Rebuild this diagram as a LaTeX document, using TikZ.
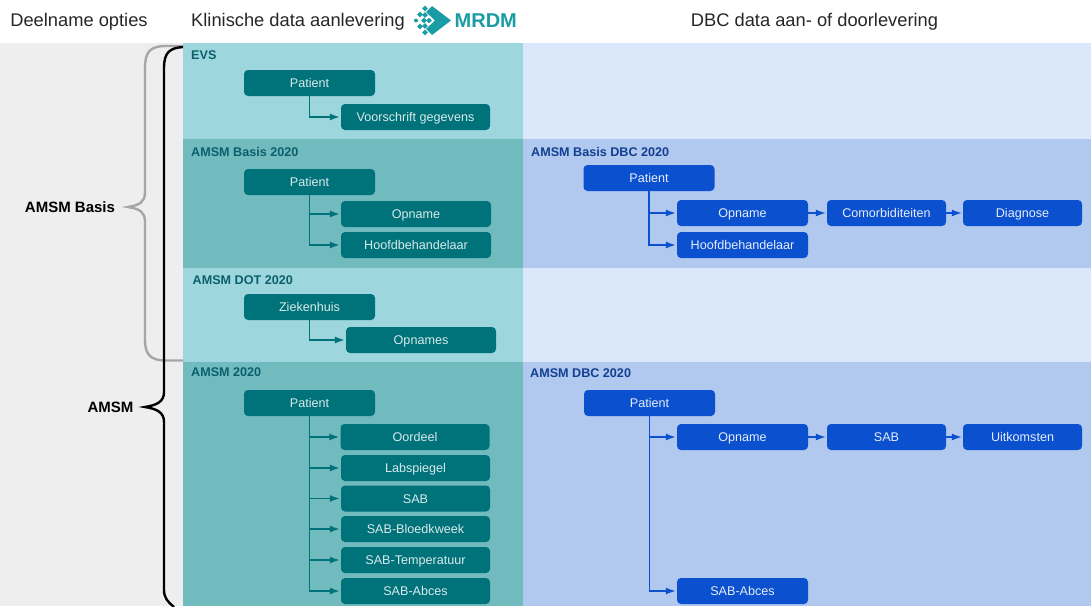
\documentclass[tikz,border=0pt]{standalone}
\usepackage{fontspec}
\setmainfont{Liberation Sans}
\usetikzlibrary{arrows.meta}
\definecolor{tealband}{HTML}{9DD7DD}
\definecolor{tealdark}{HTML}{71BBBF}
\definecolor{tealbox}{HTML}{00727A}
\definecolor{tealtext}{HTML}{0B5F6B}
\definecolor{blueband}{HTML}{DBE7FB}
\definecolor{bluedark}{HTML}{B1C8EF}
\definecolor{bluebox}{HTML}{0A50CF}
\definecolor{bluetext}{HTML}{123F91}
\definecolor{logoteal}{HTML}{1A9CA5}
\tikzset{
  boxt/.style={fill=tealbox, text=white!85!tealbox, rounded corners=4pt, inner sep=0pt, text height=11pt, text depth=2pt, font=\fontsize{12.6}{14}\selectfont},
  boxb/.style={fill=bluebox, text=white!90!bluebox, rounded corners=4pt, inner sep=0pt, text height=11pt, text depth=2pt, font=\fontsize{12.6}{14}\selectfont},
  wt/.style={minimum width=#1pt, minimum height=26pt},
  head/.style={font=\fontsize{18.3}{20}\selectfont, text=black!85},
  titlet/.style={anchor=west, inner sep=0pt, text=tealtext, font=\fontsize{12.6}{14}\selectfont\bfseries},
  titleb/.style={anchor=west, inner sep=0pt, text=bluetext, font=\fontsize{12.6}{14}\selectfont\bfseries},
  optie/.style={font=\fontsize{15}{17}\selectfont\bfseries},
  lijnt/.style={draw=tealbox, line width=1.5pt, shorten >=1pt, -{Latex[length=10pt,width=7pt]}},
  lijnb/.style={draw=bluebox, line width=1.5pt, shorten >=1pt, -{Latex[length=10pt,width=7pt]}},
}
\begin{document}
\begin{tikzpicture}[x=1pt,y=-1pt]
\useasboundingbox (0,0) rectangle (1091,606);
% banden
\fill[black!6.5] (0,43) rectangle (183,606);
\fill[tealband] (183,43) rectangle (523,139);
\fill[tealdark] (183,139) rectangle (523,268);
\fill[tealband] (183,268) rectangle (523,362);
\fill[tealdark] (183,362) rectangle (523,606);
\fill[blueband] (523,43) rectangle (1091,139);
\fill[bluedark] (523,139) rectangle (1091,268);
\fill[blueband] (523,268) rectangle (1091,362);
\fill[bluedark] (523,362) rectangle (1091,606);
% koppen
\node[head] (hdeel) at (79,21.5) {Deelname opties};
\node[head] (hklin) at (298,21.5) {Klinische data aanlevering};
\node[head] (hdbc) at (814.5,21.5) {DBC data aan- of doorlevering};
% logo
\fill[logoteal] (432,6) -- (451,20.5) -- (432,35) -- (426,29) -- (435,20.5) -- (426,12) -- cycle;
\foreach \lx/\ly in {425/8.5,425/15,425/26,425/32.5,420/14.5,420/26.5,424/20.5,429/20.5}
  \fill[logoteal] (\lx-2.8,\ly) -- (\lx,\ly-2.8) -- (\lx+2.8,\ly) -- (\lx,\ly+2.8) -- cycle;
\fill[logoteal] (416,20.5) circle (2);
\node[anchor=west, inner sep=0pt, text=logoteal] (mrdm) at (454.5,21) {\fontsize{20}{20}\selectfont\bfseries MRDM};
% accolades
\draw[black!35, line width=2.4pt] (183,46) -- (166,46) .. controls (150,46) and (145,52) .. (145,68)
  -- (145,192) .. controls (145,202) and (140,205) .. (128,207)
  .. controls (140,209) and (145,212) .. (145,222)
  -- (145,340) .. controls (145,354) and (150,360.5) .. (166,360.5) -- (183,360.5);
\draw[black, line width=2.4pt] (183,47) .. controls (170,48) and (164,52) .. (164,68)
  -- (164,392) .. controls (164,401) and (158,405) .. (145,407)
  .. controls (158,409) and (164,413) .. (164,422)
  -- (164,590) .. controls (164,598) and (168,602) .. (174,607);
\node[optie] (obasis) at (70,207) {AMSM Basis};
\node[optie] (oamsm) at (110.5,407) {AMSM};
% EVS
\node[titlet] (tevs) at (191,55) {EVS};
\node[boxt, wt=131] (evspat) at (309.5,83) {Patient};
\node[boxt, wt=149] (evsvoor) at (415.5,117) {Voorschrift gegevens};
\draw[lijnt] (evspat.south) |- (evsvoor.west);
% AMSM Basis 2020
\node[titlet] (tbasis) at (191,151.5) {AMSM Basis 2020};
\node[boxt, wt=131] (bpat) at (309.5,182) {Patient};
\node[boxt, wt=150] (bopn) at (416,214) {Opname};
\node[boxt, wt=150] (bhoofd) at (416,245) {Hoofdbehandelaar};
\draw[lijnt] (bpat.south) |- (bopn.west);
\draw[lijnt] (bpat.south) |- (bhoofd.west);
% AMSM DOT 2020
\node[titlet] (tdot) at (192.5,280) {AMSM DOT 2020};
\node[boxt, wt=131] (dzkh) at (309.5,307) {Ziekenhuis};
\node[boxt, wt=150] (dopn) at (421,340) {Opnames};
\draw[lijnt] (dzkh.south) |- (dopn.west);
% AMSM 2020
\node[titlet] (tamsm) at (191,372.5) {AMSM 2020};
\node[boxt, wt=131] (apat) at (309.5,403) {Patient};
\node[boxt, wt=149] (aoord) at (415,437) {Oordeel};
\node[boxt, wt=149] (alab) at (415.5,468) {Labspiegel};
\node[boxt, wt=149] (asab) at (415.5,498.5) {SAB};
\node[boxt, wt=149] (ablo) at (415.5,529) {SAB-Bloedkweek};
\node[boxt, wt=149] (atemp) at (415.5,560) {SAB-Temperatuur};
\node[boxt, wt=149] (aabc) at (415.5,591) {SAB-Abces};
\foreach \doel in {aoord,alab,asab,ablo,atemp,aabc}
  \draw[lijnt] (apat.south) |- (\doel.west);
% AMSM Basis DBC 2020
\node[titleb] (tbdbc) at (531,151.5) {AMSM Basis DBC 2020};
\node[boxb, wt=131] (cpat) at (649,178) {Patient};
\node[boxb, wt=131] (copn) at (742.5,213) {Opname};
\node[boxb, wt=119] (ccom) at (886.5,213) {Comorbiditeiten};
\node[boxb, wt=119] (cdia) at (1022.5,213) {Diagnose};
\node[boxb, wt=131] (choofd) at (742.5,245) {Hoofdbehandelaar};
\draw[lijnb] (cpat.south) |- (copn.west);
\draw[lijnb] (cpat.south) |- (choofd.west);
\draw[lijnb] (copn) -- (ccom);
\draw[lijnb] (ccom) -- (cdia);
% AMSM DBC 2020
\node[titleb] (tadbc) at (530,373.5) {AMSM DBC 2020};
\node[boxb, wt=131] (epat) at (649.5,403) {Patient};
\node[boxb, wt=131] (eopn) at (742.5,437) {Opname};
\node[boxb, wt=119] (esab) at (886.5,437) {SAB};
\node[boxb, wt=119] (euit) at (1022.5,437) {Uitkomsten};
\node[boxb, wt=131] (eabc) at (742.5,591) {SAB-Abces};
\draw[lijnb] (epat.south) |- (eopn.west);
\draw[lijnb] (epat.south) |- (eabc.west);
\draw[lijnb] (eopn) -- (esab);
\draw[lijnb] (esab) -- (euit);
\end{tikzpicture}
\end{document}
